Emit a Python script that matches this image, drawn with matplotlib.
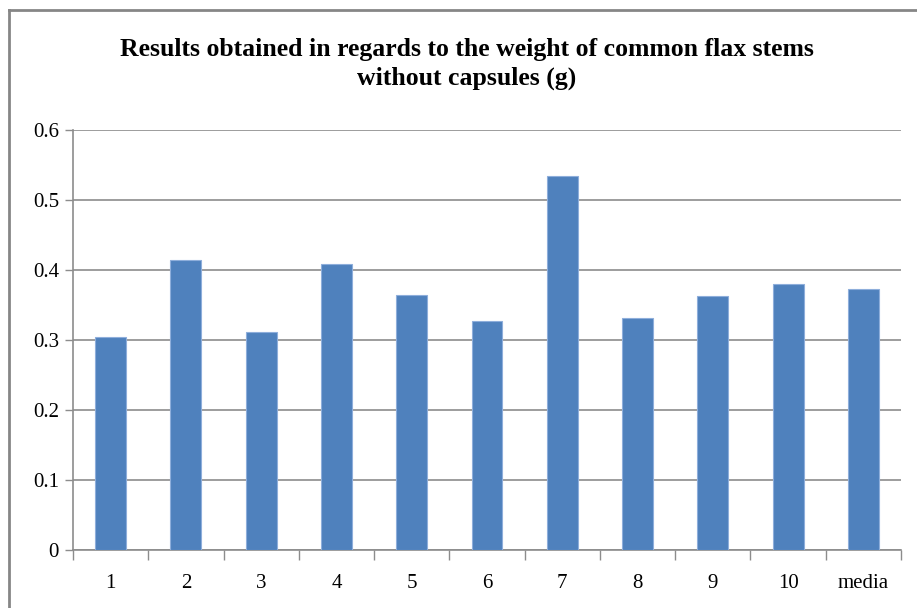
import matplotlib.pyplot as plt
from matplotlib.lines import Line2D
import numpy as np

# values
categories = ['1', '2', '3', '4', '5', '6', '7', '8', '9', '10', 'media']
weights = [0.304, 0.414, 0.312, 0.409, 0.364, 0.327, 0.535, 0.332, 0.363, 0.380, 0.373]
y_ticks = [0, 0.1, 0.2, 0.3, 0.4, 0.5, 0.6]
y_tick_labels = ['0', '0.1', '0.2', '0.3', '0.4', '0.5', '0.6']

plt.rcParams['font.family'] = ['Liberation Serif', 'DejaVu Serif']

W, H = 917, 608
fig = plt.figure(figsize=(W / 100, H / 100), dpi=100)
ax = fig.add_axes([73 / W, (H - 550) / H, (901 - 73) / W, (550 - 130) / H])

x = np.arange(len(categories))
ax.bar(x, weights, width=0.41, color='#4F81BD', edgecolor='#8eaedb', linewidth=0.8, zorder=3)

ax.set_xlim(-0.5, len(categories) - 0.5)
ax.set_ylim(0, 0.6)
ax.set_yticks(y_ticks)
ax.set_yticklabels(y_tick_labels, fontsize=15)
ax.yaxis.grid(True, color='#8c8c8c', linewidth=1.2, zorder=0)

# category labels sit between the boundary ticks
ax.set_xticks(x)
ax.set_xticklabels(categories, fontsize=15)
ax.tick_params(axis='x', length=0, pad=17)
ax.set_xticks(np.arange(len(categories) + 1) - 0.5, minor=True)
ax.tick_params(axis='x', which='minor', length=7, width=1, color='#8c8c8c')
ax.tick_params(axis='y', length=6, width=1, color='#8c8c8c', pad=4)

for side in ['top', 'right']:
    ax.spines[side].set_visible(False)
for side in ['left', 'bottom']:
    ax.spines[side].set_color('#8c8c8c')
    ax.spines[side].set_linewidth(1.2)

fig.text(467 / W, 1 - 64 / H, 'Results obtained in regards to the weight of common flax stems\nwithout capsules (g)',
         ha='center', va='center', fontsize=18.5, fontweight='bold', linespacing=1.35)

# chart area border (clipped at right and bottom)
fig.add_artist(Line2D([9 / W, 1], [1 - 10 / H, 1 - 10 / H], transform=fig.transFigure, color='#868686', linewidth=2))
fig.add_artist(Line2D([9 / W, 9 / W], [0, 1 - 10 / H], transform=fig.transFigure, color='#868686', linewidth=2))

fig.savefig('out.png', dpi=100)
